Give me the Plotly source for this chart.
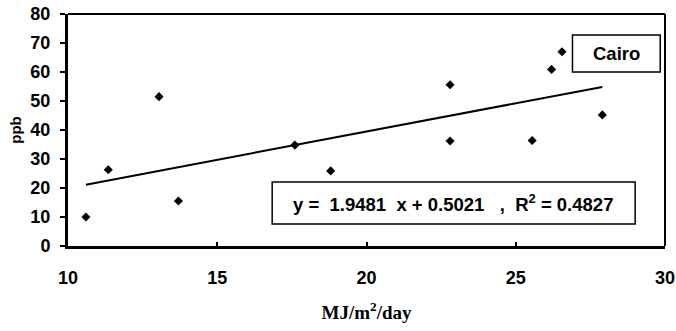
import plotly.graph_objects as go

# Data
radiation = [10.6, 11.35, 13.05, 13.7, 17.6, 18.8, 22.8, 22.8, 25.55, 26.2, 26.55, 27.9]
ppb = [10.0, 26.3, 51.5, 15.5, 34.8, 25.9, 55.6, 36.2, 36.4, 60.9, 67.0, 45.2]
slope = 1.9481
intercept = 0.5021
r2 = 0.4827
x_ticks = [10, 15, 20, 25, 30]
y_ticks = [0, 10, 20, 30, 40, 50, 60, 70, 80]
site = "Cairo"

fit_x = [min(radiation), max(radiation)]
fit_y = [slope * v + intercept for v in fit_x]

sans = "Liberation Sans, Arial, sans-serif"
serif = "Liberation Serif, Times New Roman, serif"

fig = go.Figure()
fig.add_trace(go.Scatter(x=fit_x, y=fit_y, mode="lines",
                         line=dict(color="black", width=2), showlegend=False))
fig.add_trace(go.Scatter(x=radiation, y=ppb, mode="markers",
                         marker=dict(symbol="diamond", size=7, color="black"),
                         showlegend=False))

fig.update_layout(
    width=676, height=331,
    margin=dict(l=68, r=11, t=14, b=85, autoexpand=False),
    paper_bgcolor="white", plot_bgcolor="white",
    xaxis=dict(range=[10, 30], tickvals=x_ticks, ticks="inside", ticklen=4,
               tickwidth=2, tickcolor="black", showgrid=False, zeroline=False,
               showline=True, linewidth=3, linecolor="black", automargin=False,
               ticklabelstandoff=13, ticklabeloverflow="allow",
               tickfont=dict(family=sans, size=18, color="black", weight="bold"),
               title=dict(text="MJ/m<sup>2</sup>/day", standoff=20,
                          font=dict(family=serif, size=19, color="black", weight="bold"))),
    yaxis=dict(range=[0, 80], tickvals=y_ticks, ticks="outside", ticklen=5,
               tickwidth=2, tickcolor="black", showgrid=False, zeroline=False,
               showline=True, linewidth=3, linecolor="black", automargin=False,
               ticklabelstandoff=6,
               tickfont=dict(family=sans, size=18, color="black", weight="bold"),
               title=dict(text="ppb", standoff=6,
                          font=dict(family=sans, size=15, color="black", weight="bold"))),
    shapes=[
        dict(type="line", xref="paper", yref="paper", x0=0, x1=1, y0=1, y1=1,
             line=dict(color="black", width=2)),
        dict(type="line", xref="paper", yref="paper", x0=1, x1=1, y0=0, y1=1,
             line=dict(color="black", width=2)),
        dict(type="rect", xref="paper", yref="paper", x0=0.845, x1=0.992,
             y0=0.75, y1=0.909, line=dict(color="black", width=1.5)),
        dict(type="rect", xref="paper", yref="paper", x0=0.342, x1=0.95,
             y0=0.095, y1=0.276, line=dict(color="black", width=1.5)),
    ],
    annotations=[
        dict(text=site, xref="paper", yref="paper", x=0.918, y=0.83,
             showarrow=False, xanchor="center", yanchor="middle",
             font=dict(family=sans, size=18.5, color="black", weight="bold")),
        dict(text=f"y =  {slope:.4f}  x + {intercept:.4f}   ,  R<sup>2</sup> = {r2:.4f}",
             xref="paper", yref="paper", x=0.645, y=0.185,
             showarrow=False, xanchor="center", yanchor="middle",
             font=dict(family=sans, size=18.5, color="black", weight="bold")),
    ],
)

fig.write_html("out.html")
